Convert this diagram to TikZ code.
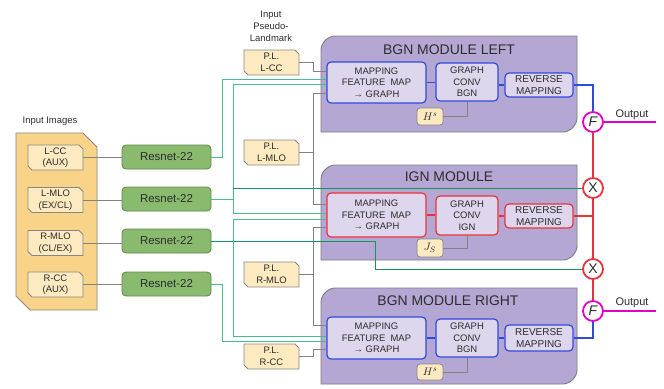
\documentclass[tikz,border=0pt]{standalone}
\usepackage{fontspec}
\setmainfont{Liberation Sans}
\definecolor{txtc}{RGB}{45,45,45}
\definecolor{boxgray}{RGB}{135,135,135}
\definecolor{yelbig}{RGB}{249,212,136}
\definecolor{yelsmall}{RGB}{253,234,192}
\definecolor{resfill}{RGB}{137,186,110}
\definecolor{resborder}{RGB}{90,135,75}
\definecolor{modfill}{RGB}{180,167,212}
\definecolor{modborder}{RGB}{125,125,125}
\definecolor{mapfill}{RGB}{221,214,236}
\definecolor{bluec}{RGB}{45,75,220}
\definecolor{redc}{RGB}{235,50,60}
\definecolor{greenA}{RGB}{70,190,140}
\definecolor{greenB}{RGB}{20,150,90}
\definecolor{magc}{RGB}{225,0,200}
\definecolor{glinec}{RGB}{130,130,130}
\newcommand\mymodshape[2]{%
  \path[draw=modborder,fill=modfill,line width=0.9bp]
    (321,#2) -- (321,#1+14) .. controls (321,#1+6.3) and (328.7,#1) .. (335,#1)
    -- (577,#1) -- (577,#2-14) .. controls (577,#2-6.3) and (569.3,#2) .. (563,#2) -- cycle;}
% name, cx, cy, w, h, chamfer, fill, text
\newcommand\chambox[8]{%
  \path[draw=boxgray,fill=#7,line width=0.9bp]
    ({#2-#4/2},{#3-#5/2}) -- ({#2+#4/2-#6},{#3-#5/2}) -- ({#2+#4/2},{#3-#5/2+#6})
    -- ({#2+#4/2},{#3+#5/2}) -- ({#2-#4/2+#6},{#3+#5/2}) -- ({#2-#4/2},{#3+#5/2-#6}) -- cycle;
  \node[boxtext,minimum width=#4bp,minimum height=#5bp] (#1) at (#2,#3) {#8};}
\begin{document}
\begin{tikzpicture}[x=1bp,y=-1bp,
  lbl/.style={text=txtc,font=\fontsize{9.5}{12}\selectfont,align=center,inner sep=0},
  boxtext/.style={rectangle,inner sep=0,align=center,text=txtc,font=\fontsize{9.5}{11.5}\selectfont},
  resbox/.style={rectangle,rounded corners=4bp,draw=resborder,fill=resfill,minimum width=89bp,
    minimum height=24bp,inner sep=0,text=txtc,font=\fontsize{11.5}{13}\selectfont,line width=0.8bp},
  inbox/.style={rectangle,rounded corners=4bp,fill=mapfill,inner sep=0,align=center,text=txtc,
    font=\fontsize{9.5}{11.5}\selectfont,line width=1.2bp},
  revfont/.style={font=\fontsize{10}{11.5}\selectfont},
  hbox/.style={rectangle,rounded corners=3bp,draw=boxgray,fill=yelsmall,minimum width=26bp,inner sep=0,
    text=txtc,font=\fontsize{11}{11}\selectfont,line width=0.8bp},
  title/.style={text=txtc,font=\fontsize{14}{16}\selectfont,inner sep=0},
  opc/.style={circle,minimum size=20bp,inner sep=0,fill=white,line width=1.8bp,text=txtc,
    font=\fontsize{14}{14}\selectfont},
  gline/.style={draw=glinec,line width=0.9bp},
  gA/.style={draw=greenA,line width=1bp},
  gB/.style={draw=greenB,line width=1bp},
  bl/.style={draw=bluec,line width=1.2bp},
  rl/.style={draw=redc,line width=1.2bp},
  ml/.style={draw=magc,line width=1.3bp}]
\useasboundingbox (0,0) rectangle (664,388);
% modules
\mymodshape{36}{132}
\mymodshape{165}{260}
\mymodshape{288}{384}
\node[title] (tL) at (449,50) {BGN MODULE LEFT};
\node[title] (tI) at (449,177) {IGN MODULE};
\node[title] (tR) at (448,301) {BGN MODULE RIGHT};
% input images
\node[lbl] (inlbl) at (50,121) {Input Images};
\chambox{inp}{56.5}{221.5}{81}{177}{14}{yelbig}{}
\chambox{lcc}{55.5}{157.5}{55}{25}{4}{yelsmall}{L-CC\\(AUX)}
\chambox{lmlo}{55.5}{200}{55}{25}{4}{yelsmall}{L-MLO\\(EX/CL)}
\chambox{rmlo}{55.5}{243}{55}{25}{4}{yelsmall}{R-MLO\\(CL/EX)}
\chambox{rcc}{55.5}{284.5}{55}{25}{4}{yelsmall}{R-CC\\(AUX)}
\node[resbox] (r1) at (166.5,157) {Resnet-22};
\node[resbox] (r2) at (166.5,199) {Resnet-22};
\node[resbox] (r3) at (166.5,241) {Resnet-22};
\node[resbox] (r4) at (166.5,284) {Resnet-22};
\draw[gline] (lcc.east) -- (lcc.east -| r1.west);
\draw[gline] (lmlo.east) -- (lmlo.east -| r2.west);
\draw[gline] (rmlo.east) -- (rmlo.east -| r3.west);
\draw[gline] (rcc.east) -- (rcc.east -| r4.west);
% pseudo landmarks
\node[lbl] (pllbl) at (271,26) {Input\\Pseudo-\\Landmark};
\chambox{pl1}{271.5}{62.5}{55}{25}{4}{yelsmall}{P.L.\\L-CC}
\chambox{pl2}{271.5}{152.5}{55}{25}{4}{yelsmall}{P.L.\\L-MLO}
\chambox{pl3}{271.5}{274.5}{55}{25}{4}{yelsmall}{P.L.\\R-MLO}
\chambox{pl4}{271.5}{356.5}{55}{25}{4}{yelsmall}{P.L.\\R-CC}
% inner boxes
\node[inbox,draw=bluec,minimum width=99bp,minimum height=41bp] (mapL) at (376.5,82.5) {MAPPING\\FEATURE\ \ MAP\\→ GRAPH};
\node[inbox,draw=redc,minimum width=99bp,minimum height=44bp] (mapI) at (376.5,215) {MAPPING\\FEATURE\ \ MAP\\→ GRAPH};
\node[inbox,draw=bluec,minimum width=99bp,minimum height=42bp] (mapR) at (376.5,338) {MAPPING\\FEATURE\ \ MAP\\→ GRAPH};
\node[inbox,draw=bluec,minimum width=62bp,minimum height=38bp] (gcL) at (467,82) {GRAPH\\CONV\\BGN};
\node[inbox,draw=redc,minimum width=62bp,minimum height=39bp] (gcI) at (467,215.5) {GRAPH\\CONV\\IGN};
\node[inbox,draw=bluec,minimum width=62bp,minimum height=38bp] (gcR) at (467,338) {GRAPH\\CONV\\BGN};
\node[inbox,revfont,draw=bluec,minimum width=68bp,minimum height=24bp] (revL) at (539,85) {REVERSE\\MAPPING};
\node[inbox,revfont,draw=redc,minimum width=68bp,minimum height=24bp] (revI) at (539,216) {REVERSE\\MAPPING};
\node[inbox,revfont,draw=bluec,minimum width=68bp,minimum height=26bp] (revR) at (539,338) {REVERSE\\MAPPING};
\node[hbox,minimum height=17bp] (hL) at (430,116.5) {$H^{s}$};
\node[hbox,minimum height=18bp] (jI) at (430,248) {$J_{S}$};
\node[hbox,minimum height=16bp] (hR) at (430,372) {$H^{s}$};
% operators
\node[opc,draw=magc] (f1) at (593,122) {\itshape F};
\node[opc,draw=redc] (x1) at (593,188) {X};
\node[opc,draw=redc] (x2) at (593,269) {X};
\node[opc,draw=magc] (f2) at (593,311) {\itshape F};
\coordinate (o1) at (656,122);
\coordinate (o2) at (656,311);
\node[lbl,font=\fontsize{11}{12}\selectfont] (out1) at (632,115) {Output};
\node[lbl,font=\fontsize{11}{12}\selectfont] (out2) at (632,303) {Output};
% gray connectors from pseudo landmarks
\draw[gline] (pl1.east) -| (313,71) -- (mapL.west |- 0,71);
\draw[gline] (pl2.east) -- (pl2.east -| 313,0);
\draw[gline] (mapL.west |- 0,93) -- (313,93) -- (313,204) -- (mapI.west |- 0,204);
\draw[gline] (pl3.east) -- (pl3.east -| 313,0);
\draw[gline] (mapI.west |- 0,227) -- (313,227) -- (313,325) -- (mapR.west |- 0,325);
\draw[gline] (pl4.east) -| (313,349) -- (mapR.west |- 0,349);
% green connectors from resnets
\draw[gA] (r1.east) -| (222,79) -- (mapL.west |- 0,79);
\draw[gA] (r2.east) -- (r2.east -| 233,0);
\draw[gA] (mapL.west |- 0,84) -- (233,84) -- (233,213) -- (mapI.west |- 0,213);
\draw[gB] (233,188) -- (x1.west);
\draw[gB] (r3.east) -| (375,269) -- (x2.west);
\draw[gA] (mapI.west |- 0,219) -- (233,219) -- (233,336) -- (mapR.west |- 0,336);
\draw[gA] (r4.east) -| (222,341) -- (mapR.west |- 0,341);
% inner module connectors
\draw[bl] (mapL.east) -- (mapL.east -| gcL.west);
\draw[bl] (gcL.east |- revL.west) -- (revL.west);
\draw[rl] (mapI.east) -- (mapI.east -| gcI.west);
\draw[rl] (gcI.east |- revI.west) -- (revI.west);
\draw[bl] (mapR.east) -- (mapR.east -| gcR.west);
\draw[bl] (gcR.east |- revR.west) -- (revR.west);
\draw[gline] (gcL.south) |- (hL.east);
\draw[gline] (gcI.south) |- (jI.east);
\draw[gline] (gcR.south) |- (hR.east);
% outputs
\draw[bl] (revL.east) -| (f1.north);
\draw[rl] (f1.south) -- (x1.north);
\draw[rl] (x1.south) -- (x2.north);
\draw[rl] (revI.east) -- (revI.east -| x1.south);
\draw[rl] (x2.south) -- (f2.north);
\draw[bl] (revR.east) -| (f2.south);
\draw[ml] (f1.east) -- (o1);
\draw[ml] (f2.east) -- (o2);
\end{tikzpicture}
\end{document}
